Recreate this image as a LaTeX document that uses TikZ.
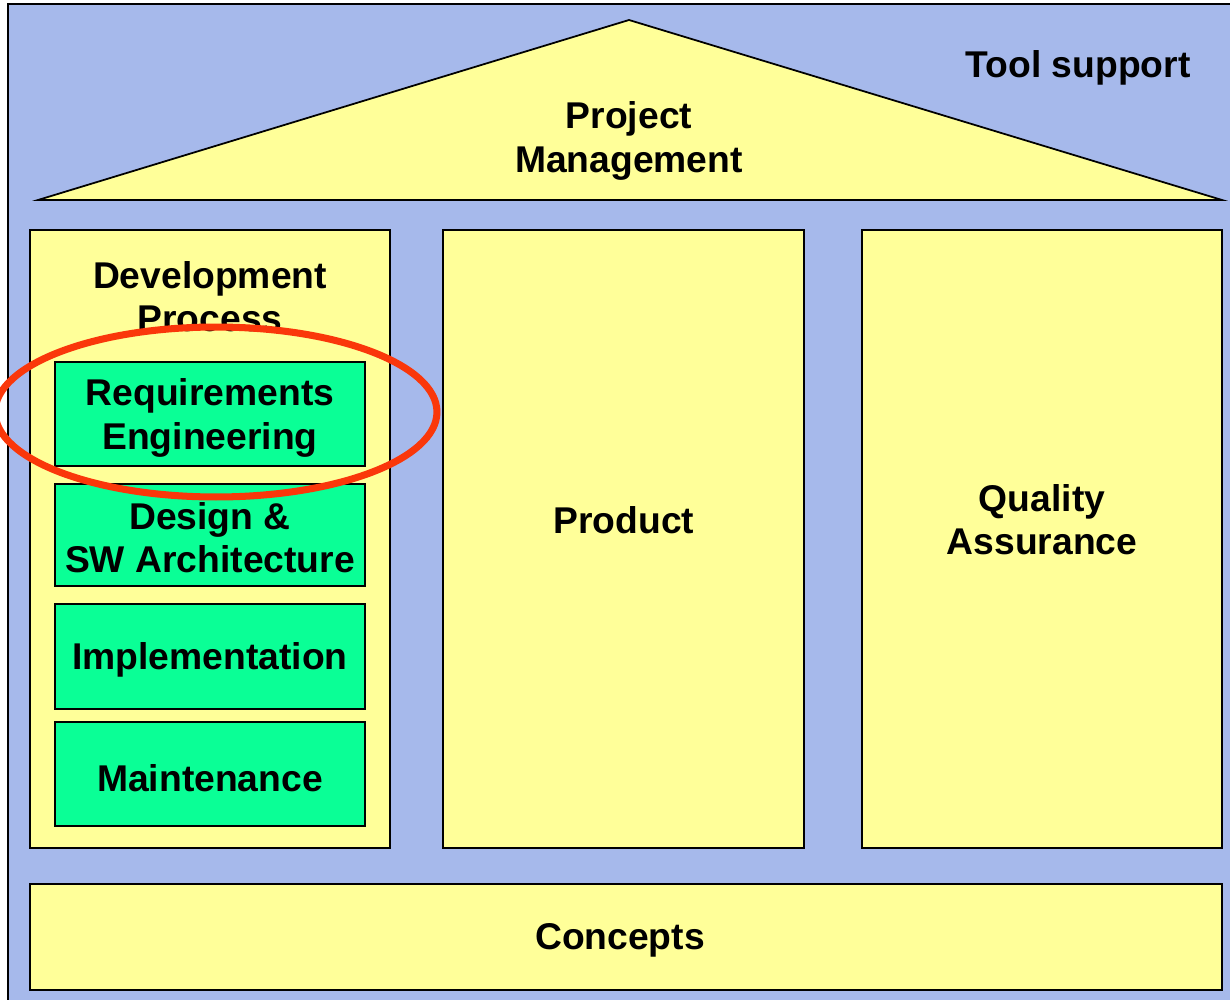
\documentclass[tikz,border=0pt]{standalone}
\usepackage{fontspec}
\setmainfont{Liberation Sans}
\usetikzlibrary{calc}

\definecolor{toolblue}{RGB}{166,185,235}
\definecolor{pillaryellow}{RGB}{255,255,153}
\definecolor{phasegreen}{RGB}{10,255,150}
\definecolor{markred}{RGB}{250,55,10}

\tikzset{
  pillar/.style={draw=black, line width=1pt, fill=pillaryellow},
  phase/.style={draw=black, line width=1pt, fill=phasegreen},
  boxtext/.style={font=\bfseries\fontsize{21.2}{24.6}\selectfont, align=center, inner sep=0pt},
}

\begin{document}
\begin{tikzpicture}[x=0.02cm, y=-0.02cm]

	\useasboundingbox (0,0) rectangle (1230,1000);
	\clip (0,0) rectangle (1230,1000);

	% ---- coordinates

	\coordinate (R1) at (38,200);
	\coordinate (R2) at (629,20);
	\coordinate (R3) at (1222,200);

	% ---- tool support

	\draw[fill=toolblue, line width=0.9pt] (8,4) rectangle (1240,1010);
	\node[boxtext] (tools) at (1078,68) {Tool support};

	% ---- roof

	\draw[pillar] (R1) -- (R2) -- (R3) -- cycle;
	\node[boxtext] (pm) at (629,141) {Project\\Management};

	% ---- pillars

	\draw[pillar] (30,230) rectangle (390,848);
	\draw[pillar] (443,230) rectangle (804,848);
	\draw[pillar] (862,230) rectangle (1222,848);
	\draw[pillar] (30,884) rectangle (1222,990);

	\node[boxtext] (dev) at (210,297) {Development\\Process};
	\node[boxtext] (product) at (624,520) {Product};
	\node[boxtext] (qa) at (1042,520) {Quality\\Assurance};
	\node[boxtext] (concepts) at (620,940) {Concepts};

	% ---- phases

	\draw[phase] (55,362) rectangle (365,466);
	\draw[phase] (55,484) rectangle (365,586);
	\draw[phase] (55,604) rectangle (365,709);
	\draw[phase] (55,722) rectangle (365,826);

	\node[boxtext] (req) at (210,418) {Requirements\\Engineering};
	\node[boxtext] (design) at (210,538) {Design \&\\SW Architecture};
	\node[boxtext] (impl) at (210,660) {Implementation};
	\node[boxtext] (maint) at (210,778) {Maintenance};

	% ---- highlight

	\draw[markred, line width=4pt] (216,412) ellipse [x radius=4.42cm, y radius=1.7cm];

\end{tikzpicture}
\end{document}
